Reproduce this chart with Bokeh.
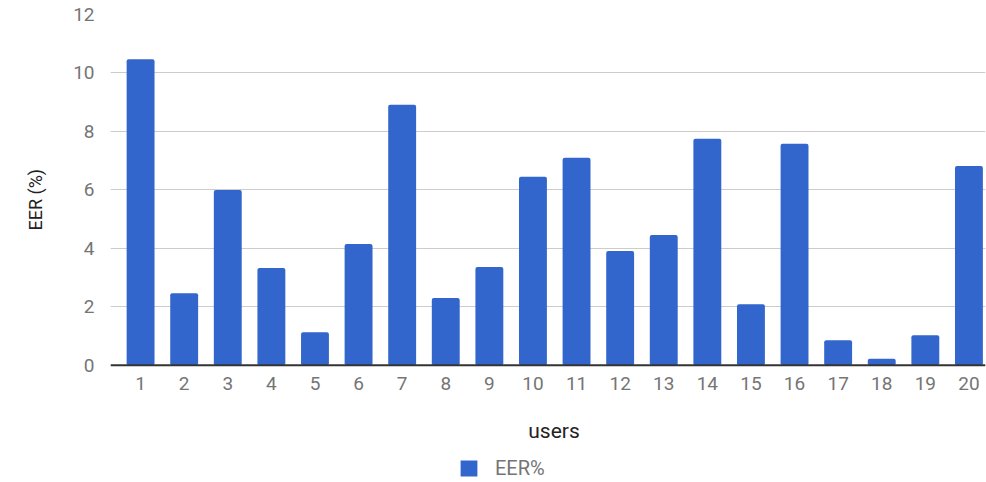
from bokeh.plotting import figure
from bokeh.models import ColumnDataSource, Legend, LegendItem, Range1d, FixedTicker, Span, Title
from bokeh.embed import file_html
from bokeh.resources import INLINE

# EER per user (%)
users = list(range(1, 21))
eer = [10.47, 2.46, 6.0, 3.33, 1.13, 4.15, 8.91, 2.3, 3.36, 6.45,
       7.1, 3.91, 4.46, 7.75, 2.09, 7.58, 0.86, 0.22, 1.03, 6.82]
y_ticks = [0, 2, 4, 6, 8, 10, 12]

BAR = "#3366cc"
GREY = "#757575"
DARK = "#222222"
FONT = "Roboto"

src = ColumnDataSource(dict(users=users, eer=eer))

# the frame runs to the bottom edge; the category axis sits at y = 0 and the
# space below it holds the tick labels, the axis title and the legend
p = figure(width=986, height=482, x_range=Range1d(0.31, 20.38), y_range=Range1d(-4.01, 12),
           output_backend="svg", toolbar_location=None,
           min_border_left=110, min_border_right=1, min_border_top=14,
           min_border_bottom=0)
p.outline_line_color = None
p.background_fill_color = "white"
p.border_fill_color = "white"

r = p.vbar(x="users", top="eer", width=0.64, source=src,
           fill_color=BAR, line_color=None, border_radius=2)

# baseline at zero across the whole frame
p.add_layout(Span(location=0, dimension="width", line_color="#333333", line_width=2))

# y axis: values only, its title is added as a side Title
p.yaxis.ticker = FixedTicker(ticks=y_ticks)
p.yaxis.axis_line_color = None
p.yaxis.major_tick_line_color = None
p.yaxis.minor_tick_line_color = None
p.yaxis.major_label_standoff = 10
p.yaxis.major_label_text_font = FONT
p.yaxis.major_label_text_font_size = "19px"
p.yaxis.major_label_text_color = GREY

ylab = Title(text="EER (%)", align="left", offset=252, vertical_align="top",
             text_font=FONT, text_font_size="18px", text_font_style="normal",
             text_color=DARK, standoff=46)
p.add_layout(ylab, "left")

# x axis pinned at zero
p.xaxis.fixed_location = 0
p.xaxis.ticker = FixedTicker(ticks=users)
p.xaxis.bounds = (0.58, 20.38)
p.xaxis.axis_line_color = None
p.xaxis.major_tick_line_color = None
p.xaxis.minor_tick_line_color = None
p.xaxis.major_label_standoff = 6
p.xaxis.major_label_text_font = FONT
p.xaxis.major_label_text_font_size = "19px"
p.xaxis.major_label_text_color = GREY
p.xaxis.axis_label = "users"
p.xaxis.axis_label_text_font = FONT
p.xaxis.axis_label_text_font_size = "21px"
p.xaxis.axis_label_text_font_style = "normal"
p.xaxis.axis_label_text_color = DARK
p.xaxis.axis_label_standoff = 25

p.xgrid.grid_line_color = None
p.ygrid.grid_line_color = "#cccccc"
p.ygrid.grid_line_width = 1

legend = Legend(items=[LegendItem(label="EER%", renderers=[r])],
                location=(348, 2), orientation="horizontal",
                glyph_width=21, glyph_height=20, label_standoff=16,
                padding=0, margin=0, border_line_color=None,
                background_fill_alpha=0,
                label_text_font=FONT, label_text_font_size="20px",
                label_text_color=GREY)
p.add_layout(legend, "center")

open("out.html", "w").write(file_html(p, INLINE))
